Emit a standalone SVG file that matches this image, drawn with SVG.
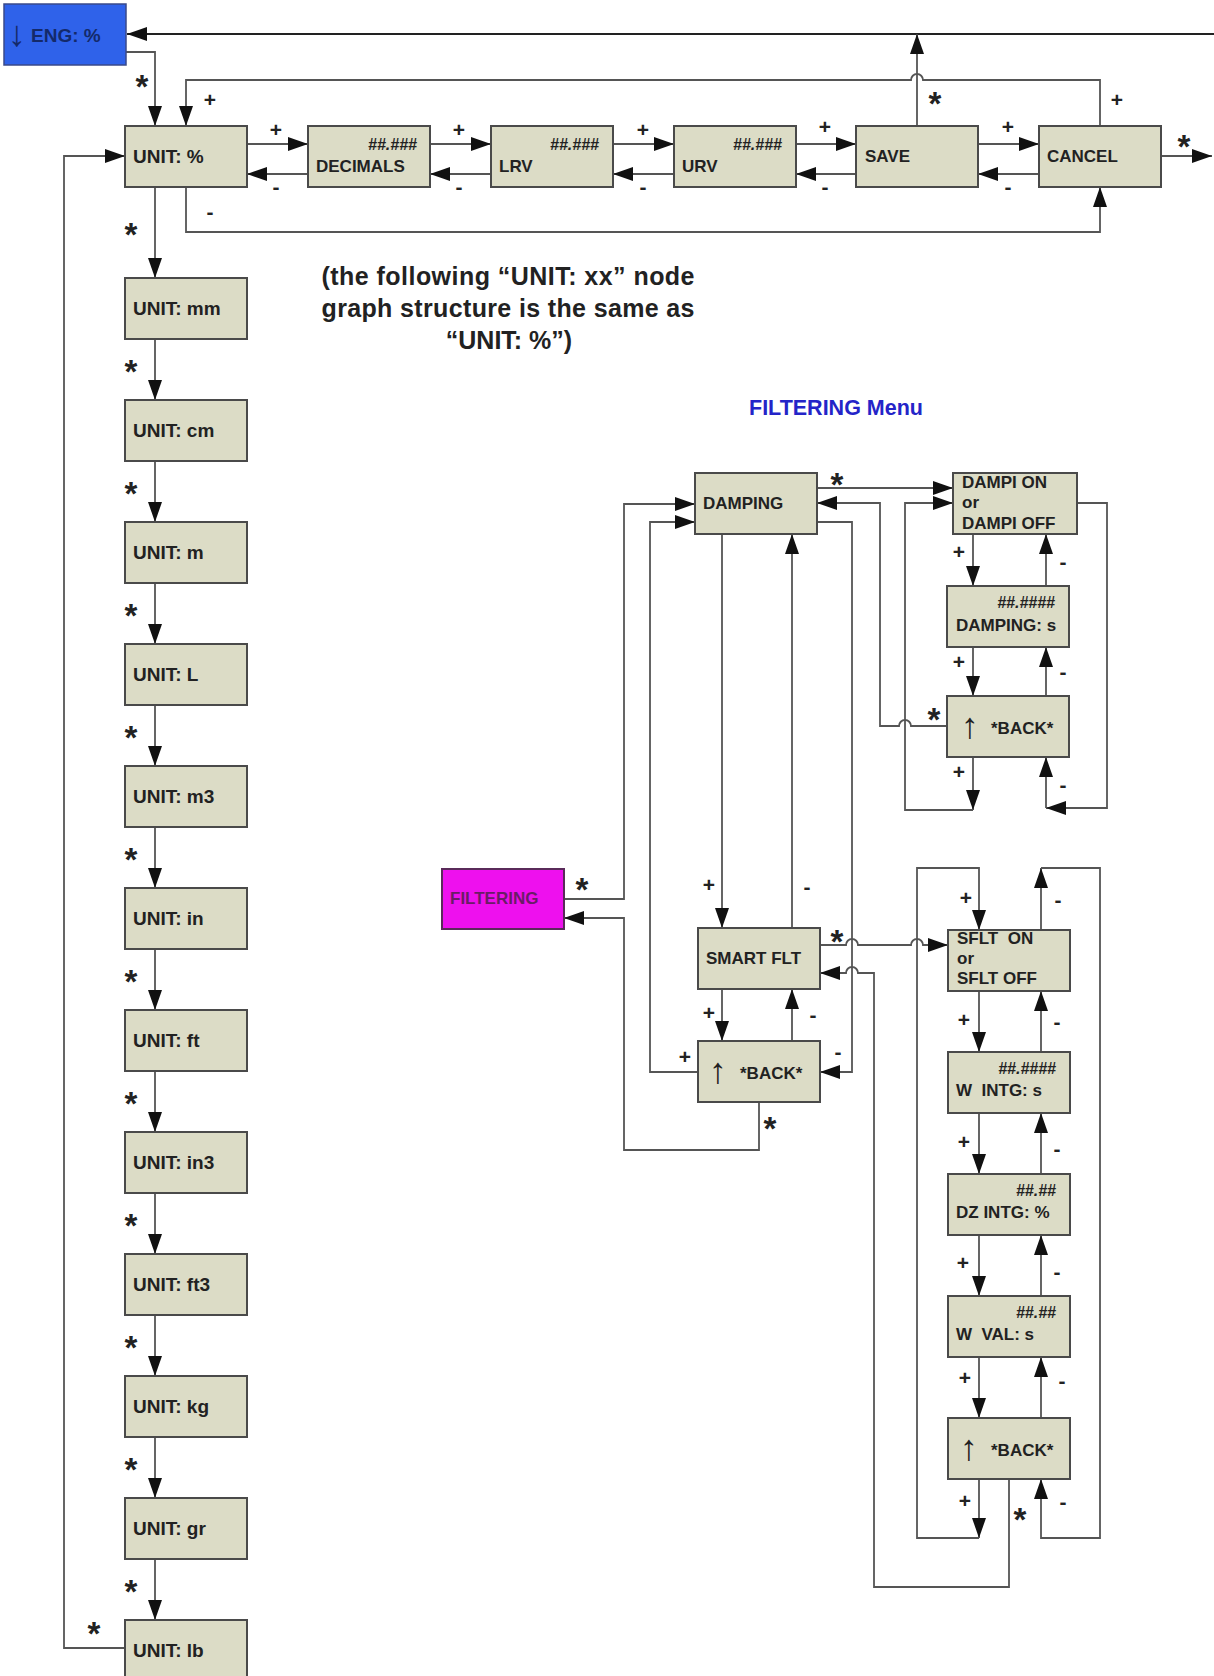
<svg xmlns="http://www.w3.org/2000/svg" width="1214" height="1676" viewBox="0 0 1214 1676">
<style>
.box{fill:#dcdcc6;stroke:#4a4a4a;stroke-width:2}
.t{font-family:"Liberation Sans",Arial,sans-serif;font-weight:bold;font-size:17px;fill:#222;white-space:pre}
.u{font-size:19px}
.h{font-style:italic;font-size:16px;text-anchor:end}
.ar{font-weight:normal;font-size:36px}
.c{fill:none;stroke:#555;stroke-width:1.8}
.a{marker-end:url(#ah)}
.l{font-family:"Liberation Sans",Arial,sans-serif;font-weight:bold;font-size:21px;fill:#222;text-anchor:middle}
.s{font-size:33px}
</style>
<defs>
<marker id="ah" markerWidth="20" markerHeight="14" refX="20" refY="7" orient="auto" markerUnits="userSpaceOnUse"><path d="M0,0 L20,7 L0,14 z" fill="#111"/></marker>
</defs>
<rect width="1214" height="1676" fill="#fff"/>

<g id="connectors">
<path class="c a" d="M126,52 H155 V126"/>
<path class="c a" style="stroke:#222" d="M1214,34 H127"/>
<path class="c a" d="M917,126 V34"/>
<path class="c a" d="M1100,126 V80 H923 A6,6 0 0 0 911,80 H186 V126"/>
<path class="c a" d="M186,187 V232 H1100 V187"/>
<path class="c a" d="M1161,156 H1212"/>
<path class="c a" d="M247,144 H308"/>
<path class="c a" d="M430,144 H491"/>
<path class="c a" d="M613,144 H674"/>
<path class="c a" d="M796,144 H856"/>
<path class="c a" d="M978,144 H1039"/>
<path class="c a" d="M308,174 H247"/>
<path class="c a" d="M491,174 H430"/>
<path class="c a" d="M674,174 H613"/>
<path class="c a" d="M856,174 H796"/>
<path class="c a" d="M1039,174 H978"/>
<path class="c a" d="M155,187 V278"/>
<path class="c a" d="M155,339 V400"/>
<path class="c a" d="M155,461 V522"/>
<path class="c a" d="M155,583 V644"/>
<path class="c a" d="M155,705 V766"/>
<path class="c a" d="M155,827 V888"/>
<path class="c a" d="M155,949 V1010"/>
<path class="c a" d="M155,1071 V1132"/>
<path class="c a" d="M155,1193 V1254"/>
<path class="c a" d="M155,1315 V1376"/>
<path class="c a" d="M155,1437 V1498"/>
<path class="c a" d="M155,1559 V1620"/>
<path class="c a" d="M125,1648 H64 V156 H125"/>
<path class="c a" d="M564,899 H624 V504 H695"/>
<path class="c a" d="M759,1102 V1150 H624 V918 H564"/>
<path class="c a" d="M698,1072 H650 V522 H695"/>
<path class="c a" d="M722,534 V928"/>
<path class="c a" d="M792,928 V534"/>
<path class="c a" d="M722,989 V1041"/>
<path class="c a" d="M792,1041 V989"/>
<path class="c a" d="M817,522 H852 V1072 H820"/>
<path class="c a" d="M817,488 H953"/>
<path class="c a" d="M947,726 H911 A6,6 0 0 0 899,726 H880 V503 H817"/>
<path class="c a" d="M973,757 V810"/>
<path class="c a" d="M973,810 H905 V503 H953"/>
<path class="c a" d="M1077,503 H1107 V808 H1046"/>
<path class="c a" d="M1046,808 V757"/>
<path class="c a" d="M973,534 V586"/>
<path class="c a" d="M1046,586 V534"/>
<path class="c a" d="M973,647 V696"/>
<path class="c a" d="M1046,696 V647"/>
<path class="c a" d="M820,945 H846 A6,6 0 0 1 858,945 H911 A6,6 0 0 1 923,945 H948"/>
<path class="c a" d="M1009,1479 V1587 H874 V973 H858 A6,6 0 0 0 846,973 H820"/>
<path class="c a" d="M979,1479 V1538"/>
<path class="c a" d="M979,1538 H917 V868 H979 V930"/>
<path class="c a" d="M1041,930 V868"/>
<path class="c a" d="M1041,868 H1100 V1538 H1041 V1479"/>
<path class="c a" d="M979,991 V1052"/>
<path class="c a" d="M1041,1052 V991"/>
<path class="c a" d="M979,1113 V1174"/>
<path class="c a" d="M1041,1174 V1113"/>
<path class="c a" d="M979,1235 V1296"/>
<path class="c a" d="M1041,1296 V1235"/>
<path class="c a" d="M979,1357 V1418"/>
<path class="c a" d="M1041,1418 V1357"/>
</g>

<g id="labels">
<text class="l s" x="142" y="98">*</text>
<text class="l" x="210" y="107">+</text>
<text class="l s" x="935" y="115">*</text>
<text class="l" x="1117" y="107">+</text>
<text class="l" x="210" y="219">-</text>
<text class="l s" x="1184" y="158">*</text>
<text class="l" x="276" y="137">+</text>
<text class="l" x="459" y="137">+</text>
<text class="l" x="643" y="137">+</text>
<text class="l" x="825" y="134">+</text>
<text class="l" x="1008" y="134">+</text>
<text class="l" x="276" y="194">-</text>
<text class="l" x="459" y="194">-</text>
<text class="l" x="643" y="194">-</text>
<text class="l" x="825" y="194">-</text>
<text class="l" x="1008" y="194">-</text>
<text class="l s" x="131" y="246">*</text>
<text class="l s" x="131" y="383">*</text>
<text class="l s" x="131" y="505">*</text>
<text class="l s" x="131" y="627">*</text>
<text class="l s" x="131" y="749">*</text>
<text class="l s" x="131" y="871">*</text>
<text class="l s" x="131" y="993">*</text>
<text class="l s" x="131" y="1115">*</text>
<text class="l s" x="131" y="1237">*</text>
<text class="l s" x="131" y="1359">*</text>
<text class="l s" x="131" y="1481">*</text>
<text class="l s" x="131" y="1603">*</text>
<text class="l s" x="94" y="1645">*</text>
<text class="l s" x="582" y="901">*</text>
<text class="l s" x="770" y="1140">*</text>
<text class="l" x="685" y="1064">+</text>
<text class="l" x="709" y="892">+</text>
<text class="l" x="807" y="894">-</text>
<text class="l" x="709" y="1020">+</text>
<text class="l" x="813" y="1022">-</text>
<text class="l" x="838" y="1059">-</text>
<text class="l s" x="837" y="496">*</text>
<text class="l s" x="934" y="731">*</text>
<text class="l" x="959" y="779">+</text>
<text class="l" x="1063" y="792">-</text>
<text class="l" x="959" y="559">+</text>
<text class="l" x="1063" y="569">-</text>
<text class="l" x="959" y="669">+</text>
<text class="l" x="1063" y="679">-</text>
<text class="l s" x="837" y="953">*</text>
<text class="l s" x="1020" y="1531">*</text>
<text class="l" x="965" y="1508">+</text>
<text class="l" x="966" y="905">+</text>
<text class="l" x="1058" y="907">-</text>
<text class="l" x="1063" y="1509">-</text>
<text class="l" x="964" y="1027">+</text>
<text class="l" x="1057" y="1029">-</text>
<text class="l" x="964" y="1149">+</text>
<text class="l" x="1057" y="1156">-</text>
<text class="l" x="963" y="1270">+</text>
<text class="l" x="1057" y="1279">-</text>
<text class="l" x="965" y="1385">+</text>
<text class="l" x="1062" y="1388">-</text>
</g>

<g id="caption">
<text class="t" style="font-size:25px;text-anchor:middle" x="508" y="285" textLength="373">(the following “UNIT: xx” node</text>
<text class="t" style="font-size:25px;text-anchor:middle" x="508" y="317" textLength="373">graph structure is the same as</text>
<text class="t" style="font-size:25px;text-anchor:middle" x="509" y="349">“UNIT: %”)</text>
<text class="t" style="font-size:21.5px;fill:#2424c8" x="749" y="415">FILTERING Menu</text>
</g>

<g id="eng"><rect x="4" y="4" width="122" height="61" fill="#2f62ea" stroke="#3a4a8a" stroke-width="1.5"/><text class="t ar" style="fill:#142a6a" x="8" y="46">↓</text><text class="t" style="fill:#142a6a;font-size:19px" x="31" y="42">ENG: %</text></g>

<g id="unit_pct"><rect class="box" x="125" y="126" width="122" height="61"/><text class="t u" x="133" y="163">UNIT: %</text></g>
<g id="decimals"><rect class="box" x="308" y="126" width="122" height="61"/><text class="t h" x="417" y="150">##.###</text><text class="t" x="316" y="172">DECIMALS</text></g>
<g id="lrv"><rect class="box" x="491" y="126" width="122" height="61"/><text class="t h" x="599" y="150">##.###</text><text class="t" x="499" y="172">LRV</text></g>
<g id="urv"><rect class="box" x="674" y="126" width="122" height="61"/><text class="t h" x="782" y="150">##.###</text><text class="t" x="682" y="172">URV</text></g>
<g id="save"><rect class="box" x="856" y="126" width="122" height="61"/><text class="t" x="865" y="162">SAVE</text></g>
<g id="cancel"><rect class="box" x="1039" y="126" width="122" height="61"/><text class="t" x="1047" y="162">CANCEL</text></g>

<g id="unit_mm"><rect class="box" x="125" y="278" width="122" height="61"/><text class="t u" x="133" y="315">UNIT: mm</text></g>
<g id="unit_cm"><rect class="box" x="125" y="400" width="122" height="61"/><text class="t u" x="133" y="437">UNIT: cm</text></g>
<g id="unit_m"><rect class="box" x="125" y="522" width="122" height="61"/><text class="t u" x="133" y="559">UNIT: m</text></g>
<g id="unit_L"><rect class="box" x="125" y="644" width="122" height="61"/><text class="t u" x="133" y="681">UNIT: L</text></g>
<g id="unit_m3"><rect class="box" x="125" y="766" width="122" height="61"/><text class="t u" x="133" y="803">UNIT: m3</text></g>
<g id="unit_in"><rect class="box" x="125" y="888" width="122" height="61"/><text class="t u" x="133" y="925">UNIT: in</text></g>
<g id="unit_ft"><rect class="box" x="125" y="1010" width="122" height="61"/><text class="t u" x="133" y="1047">UNIT: ft</text></g>
<g id="unit_in3"><rect class="box" x="125" y="1132" width="122" height="61"/><text class="t u" x="133" y="1169">UNIT: in3</text></g>
<g id="unit_ft3"><rect class="box" x="125" y="1254" width="122" height="61"/><text class="t u" x="133" y="1291">UNIT: ft3</text></g>
<g id="unit_kg"><rect class="box" x="125" y="1376" width="122" height="61"/><text class="t u" x="133" y="1413">UNIT: kg</text></g>
<g id="unit_gr"><rect class="box" x="125" y="1498" width="122" height="61"/><text class="t u" x="133" y="1535">UNIT: gr</text></g>
<g id="unit_lb"><rect class="box" x="125" y="1620" width="122" height="61"/><text class="t u" x="133" y="1657">UNIT: lb</text></g>

<g id="filtering"><rect x="442" y="869" width="122" height="60" fill="#ee10ee" stroke="#5a2a5a" stroke-width="2"/><text class="t" style="fill:#6a1c66" x="450" y="904">FILTERING</text></g>
<g id="damping"><rect class="box" x="695" y="473" width="122" height="61"/><text class="t" x="703" y="509">DAMPING</text></g>
<g id="dampi_onoff"><rect class="box" x="953" y="473" width="124" height="61"/><text class="t" x="962" y="488">DAMPI ON</text><text class="t" x="962" y="508">or</text><text class="t" x="962" y="529">DAMPI OFF</text></g>
<g id="damping_s"><rect class="box" x="947" y="586" width="122" height="61"/><text class="t h" x="1055" y="608">##.####</text><text class="t" x="956" y="631">DAMPING: s</text></g>
<g id="damp_back"><rect class="box" x="947" y="696" width="122" height="61"/><text class="t ar" x="961" y="738">↑</text><text class="t" x="991" y="734">*BACK*</text></g>
<g id="smart_flt"><rect class="box" x="698" y="928" width="122" height="61"/><text class="t" x="706" y="964">SMART FLT</text></g>
<g id="smart_back"><rect class="box" x="698" y="1041" width="122" height="61"/><text class="t ar" x="709" y="1083">↑</text><text class="t" x="740" y="1079">*BACK*</text></g>
<g id="sflt_onoff"><rect class="box" x="948" y="930" width="122" height="61"/><text class="t" x="957" y="944">SFLT  ON</text><text class="t" x="957" y="964">or</text><text class="t" x="957" y="984">SFLT OFF</text></g>
<g id="w_intg"><rect class="box" x="948" y="1052" width="122" height="61"/><text class="t h" x="1056" y="1074">##.####</text><text class="t" x="956" y="1096">W  INTG: s</text></g>
<g id="dz_intg"><rect class="box" x="948" y="1174" width="122" height="61"/><text class="t h" x="1056" y="1196">##.##</text><text class="t" x="956" y="1218">DZ INTG: %</text></g>
<g id="w_val"><rect class="box" x="948" y="1296" width="122" height="61"/><text class="t h" x="1056" y="1318">##.##</text><text class="t" x="956" y="1340">W  VAL: s</text></g>
<g id="sflt_back"><rect class="box" x="948" y="1418" width="122" height="61"/><text class="t ar" x="960" y="1460">↑</text><text class="t" x="991" y="1456">*BACK*</text></g>
</svg>
